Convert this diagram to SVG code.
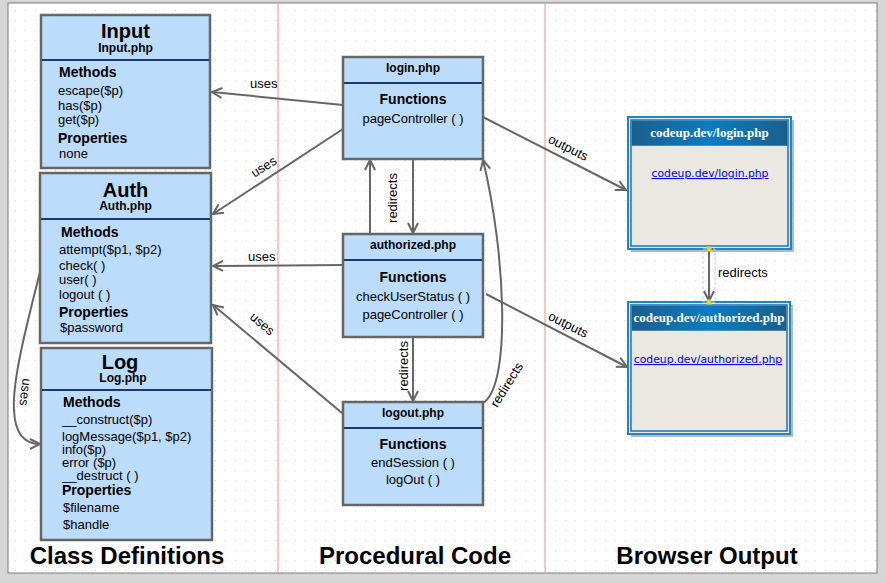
<svg xmlns="http://www.w3.org/2000/svg" width="886" height="583" viewBox="0 0 886 583">
<defs>
<pattern id="dots" x="0" y="0" width="10" height="10" patternUnits="userSpaceOnUse">
<rect x="5" y="0" width="1" height="1" fill="#d2d2d2"/>
</pattern>
<linearGradient id="hdr" x1="0" y1="0" x2="1" y2="0">
<stop offset="0" stop-color="#1a5f8d"/>
<stop offset="0.5" stop-color="#0b7cc3"/>
<stop offset="1" stop-color="#1a5f8d"/>
</linearGradient>
<marker id="arr" viewBox="0 0 12 12" refX="11" refY="6" markerWidth="12" markerHeight="12" orient="auto" markerUnits="userSpaceOnUse">
<path d="M1,1 L11,6 L1,11" fill="none" stroke="#666" stroke-width="2"/>
</marker>
<style>
.box{fill:#bbdcfb;stroke:#666;stroke-width:2.5}
.div{stroke:#1f3578;stroke-width:2}
.t{font-family:"Liberation Sans",Arial,sans-serif;fill:#000}
.big{font-size:20px;font-weight:bold}
.sub{font-size:12px;font-weight:bold}
.hd{font-size:14px;font-weight:bold}
.it{font-size:13px}
.sec{font-size:24px;font-weight:bold}
.c{text-anchor:middle}
.ln{fill:none;stroke:#666;stroke-width:2}
.lbl{font-family:"Liberation Sans",Arial,sans-serif;font-size:13px;fill:#000}
.bh{font-family:"Liberation Serif","Times New Roman",serif;font-size:13px;font-weight:bold;fill:#fff;text-anchor:middle}
.lk{font-family:"DejaVu Sans",sans-serif;font-size:10.8px;fill:#0000ee;text-decoration:underline;text-anchor:middle}
.bw{fill:#ebe8e1;stroke:#1a86d2;stroke-width:2}
.bwi{fill:none;stroke:#1a74b8;stroke-width:1.5}
.shd{fill:#b8b8b8}
.red{stroke:#ef8f8f;stroke-width:1}
</style>
</defs>
<rect x="0" y="0" width="886" height="583" fill="#d6d6d6"/>
<rect x="8" y="3" width="869" height="570" fill="#ffffff" stroke="#7a7a7a" stroke-width="1"/>
<rect x="9" y="4" width="867" height="568" fill="url(#dots)"/>
<line class="red" x1="278" y1="4" x2="278" y2="572"/>
<line class="red" x1="545" y1="4" x2="545" y2="572"/>

<g id="input">
<rect class="box" x="41" y="15" width="169" height="153"/>
<line class="div" x1="42" y1="60" x2="209" y2="60"/>
<text class="t big c" x="125.5" y="38">Input</text>
<text class="t sub c" x="125.5" y="52">Input.php</text>
<text class="t hd" x="59" y="77">Methods</text>
<text class="t it" x="58" y="95">escape($p)</text>
<text class="t it" x="58" y="110">has($p)</text>
<text class="t it" x="58" y="124">get($p)</text>
<text class="t hd" x="58" y="143">Properties</text>
<text class="t it" x="59" y="158">none</text>
</g>

<g id="auth">
<rect class="box" x="40" y="173" width="171" height="170"/>
<line class="div" x1="41" y1="219" x2="210" y2="219"/>
<text class="t big c" x="125.5" y="197">Auth</text>
<text class="t sub c" x="125.5" y="210">Auth.php</text>
<text class="t hd" x="61" y="237">Methods</text>
<text class="t it" x="59" y="254">attempt($p1, $p2)</text>
<text class="t it" x="59" y="270">check( )</text>
<text class="t it" x="59" y="284">user( )</text>
<text class="t it" x="59" y="299">logout ( )</text>
<text class="t hd" x="59" y="317">Properties</text>
<text class="t it" x="60" y="332">$password</text>
</g>

<g id="log">
<rect class="box" x="41" y="348" width="171" height="192"/>
<line class="div" x1="42" y1="390" x2="211" y2="390"/>
<text class="t big c" x="120" y="369">Log</text>
<text class="t sub c" x="123" y="382">Log.php</text>
<text class="t hd" x="63" y="407">Methods</text>
<text class="t it" x="62" y="424">__construct($p)</text>
<text class="t it" x="62" y="441">logMessage($p1, $p2)</text>
<text class="t it" x="62" y="454">info($p)</text>
<text class="t it" x="62" y="467">error ($p)</text>
<text class="t it" x="62" y="480">__destruct ( )</text>
<text class="t hd" x="62" y="495">Properties</text>
<text class="t it" x="63" y="512">$filename</text>
<text class="t it" x="63" y="529">$handle</text>
</g>

<g id="login">
<rect class="box" x="343" y="57" width="140" height="102"/>
<line class="div" x1="344" y1="83" x2="482" y2="83"/>
<text class="t sub c" x="413" y="72">login.php</text>
<text class="t hd c" x="413" y="104">Functions</text>
<text class="t it c" x="413" y="123">pageController ( )</text>
</g>

<g id="authorized">
<rect class="box" x="343" y="234" width="140" height="103"/>
<line class="div" x1="344" y1="260" x2="482" y2="260"/>
<text class="t sub c" x="413" y="249">authorized.php</text>
<text class="t hd c" x="413" y="282">Functions</text>
<text class="t it c" x="413" y="301">checkUserStatus ( )</text>
<text class="t it c" x="413" y="319">pageController ( )</text>
</g>

<g id="logout">
<rect class="box" x="343" y="402" width="140" height="103"/>
<line class="div" x1="344" y1="428" x2="482" y2="428"/>
<text class="t sub c" x="413" y="417">logout.php</text>
<text class="t hd c" x="413" y="449">Functions</text>
<text class="t it c" x="413" y="467">endSession ( )</text>
<text class="t it c" x="413" y="484">logOut ( )</text>
</g>

<g id="browser-login">
<rect class="shd" x="631" y="120" width="163" height="132"/>
<rect class="bw" x="628" y="117" width="163" height="132"/>
<rect class="bwi" x="631" y="120" width="157" height="126"/>
<rect x="631.75" y="120.75" width="155.5" height="25" fill="url(#hdr)"/>
<text class="bh" x="709.5" y="137">codeup.dev/login.php</text>
<text class="lk" x="710" y="177">codeup.dev/login.php</text>
</g>

<g id="browser-authorized">
<rect class="shd" x="631" y="305" width="162" height="132"/>
<rect class="bw" x="628" y="302" width="162" height="132"/>
<rect class="bwi" x="631" y="305" width="156" height="126"/>
<rect x="631.75" y="305.75" width="154.5" height="25" fill="url(#hdr)"/>
<text class="bh" x="709" y="322">codeup.dev/authorized.php</text>
<text class="lk" x="708" y="363">codeup.dev/authorized.php</text>
</g>

<g id="connectors">
<line class="ln" x1="343" y1="105" x2="212" y2="92" marker-end="url(#arr)"/>
<text class="lbl" x="250" y="88">uses</text>
<line class="ln" x1="343" y1="129" x2="213" y2="214" marker-end="url(#arr)"/>
<text class="lbl" x="264" y="171" text-anchor="middle" transform="rotate(-32 264 167)">uses</text>
<line class="ln" x1="343" y1="265" x2="213" y2="266" marker-end="url(#arr)"/>
<text class="lbl" x="248" y="261">uses</text>
<line class="ln" x1="342" y1="413" x2="213" y2="305" marker-end="url(#arr)"/>
<text class="lbl" x="262" y="328" text-anchor="middle" transform="rotate(40 262 324)">uses</text>
<path class="ln" d="M40 272 C28 320 12 380 14 410 C15 435 25 444 40 444" marker-end="url(#arr)"/>
<text class="lbl" x="25" y="396" text-anchor="middle" transform="rotate(97 25 392)">uses</text>
<line class="ln" x1="370" y1="234" x2="370" y2="160" marker-end="url(#arr)"/>
<line class="ln" x1="413" y1="159" x2="413" y2="233" marker-end="url(#arr)"/>
<text class="lbl" x="397" y="198" text-anchor="middle" transform="rotate(-90 397 198)">redirects</text>
<line class="ln" x1="413" y1="337" x2="413" y2="401" marker-end="url(#arr)"/>
<text class="lbl" x="408" y="366" text-anchor="middle" transform="rotate(-90 408 366)">redirects</text>
<path class="ln" d="M483 403 C512 385 505 250 483 160" marker-end="url(#arr)"/>
<text class="lbl" x="507" y="389" text-anchor="middle" transform="rotate(-58 507 385)">redirects</text>
<line class="ln" x1="483" y1="117" x2="626" y2="190" marker-end="url(#arr)"/>
<text class="lbl" x="568" y="152" text-anchor="middle" transform="rotate(27 568 148)">outputs</text>
<line class="ln" x1="486" y1="294" x2="627" y2="367" marker-end="url(#arr)"/>
<text class="lbl" x="568" y="329" text-anchor="middle" transform="rotate(27 568 325)">outputs</text>
<rect x="703" y="249" width="12" height="53" fill="none" stroke="#c9c6f5" stroke-width="1" stroke-dasharray="3,2"/>
<line class="ln" x1="709" y1="250" x2="709" y2="301" marker-end="url(#arr)"/>
<rect x="706.5" y="246.5" width="5" height="5" fill="#dede2a"/>
<rect x="706.5" y="299.5" width="5" height="5" fill="#dede2a"/>
<text class="lbl" x="718" y="277">redirects</text>
</g>

<g id="sections">
<text class="t sec c" x="127" y="564">Class Definitions</text>
<text class="t sec c" x="415" y="564">Procedural Code</text>
<text class="t sec c" x="707" y="564">Browser Output</text>
</g>
</svg>
